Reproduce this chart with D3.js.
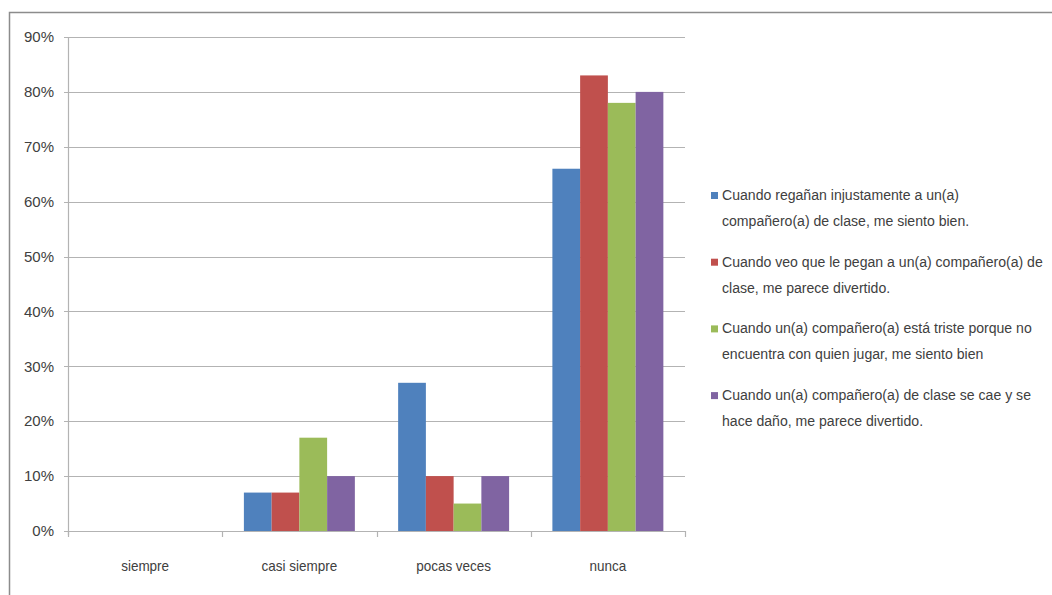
<!DOCTYPE html>
<html><head><meta charset="utf-8">
<script src="https://cdn.jsdelivr.net/npm/d3@7/dist/d3.min.js"></script>
<style>body{margin:0;background:#fff}svg{display:block}</style>
</head><body>
<svg id="c" width="1052" height="595"></svg>
<script>
const categories = ["siempre", "casi siempre", "pocas veces", "nunca"];
const seriesNames = [
  ["Cuando regañan injustamente a un(a)", "compañero(a) de clase, me siento bien."],
  ["Cuando veo que le pegan a un(a) compañero(a) de", "clase, me parece divertido."],
  ["Cuando un(a) compañero(a) está triste porque no", "encuentra con quien jugar, me siento bien"],
  ["Cuando un(a) compañero(a) de clase se cae y se", "hace daño, me parece divertido."]
];
const serie1 = [0, 7, 27, 66];
const serie2 = [0, 7, 10, 83];
const serie3 = [0, 17, 5, 78];
const serie4 = [0, 10, 10, 80];
const yTicks = [0, 10, 20, 30, 40, 50, 60, 70, 80, 90];
const colors = ["#4F81BD", "#C0504D", "#9BBB59", "#8064A2"];

const series = [serie1, serie2, serie3, serie4];
const svg = d3.select("#c");
const font = "'Liberation Sans', Arial, sans-serif";
const textColor = "#404040";

// outer frame (top and left)
svg.append("path").attr("d", "M9.5,600 L9.5,12.5 L1060,12.5")
  .attr("fill", "none").attr("stroke", "#8c8c8c").attr("stroke-width", 1.5);

const x0 = d3.scaleBand().domain(categories).range([68, 685]).paddingInner(0).paddingOuter(0);
const y = d3.scaleLinear().domain([0, 90]).range([531, 37]);
const x1 = d3.scaleBand().domain(d3.range(4)).range([0, x0.bandwidth()]).paddingOuter(0.78).paddingInner(0);

// gridlines
svg.append("g").selectAll("line").data(yTicks).join("line")
  .attr("x1", 64).attr("x2", 685)
  .attr("y1", d => Math.round(y(d)) + 0.5).attr("y2", d => Math.round(y(d)) + 0.5)
  .attr("stroke", "#b3b3b3").attr("stroke-width", 1.2);

// y axis line
svg.append("line").attr("x1", 68.5).attr("x2", 68.5).attr("y1", 37).attr("y2", 535)
  .attr("stroke", "#b3b3b3").attr("stroke-width", 1.2);

// y tick labels
svg.append("g").selectAll("text").data(yTicks).join("text")
  .attr("x", 54).attr("y", d => y(d)).attr("dy", "0.35em")
  .attr("text-anchor", "end").attr("font-family", font).attr("font-size", 15)
  .attr("fill", textColor).text(d => d + "%");

// category ticks
const catEdges = categories.map(c => x0(c)).concat([x0(categories[3]) + x0.bandwidth()]);
svg.append("g").selectAll("line").data(catEdges).join("line")
  .attr("x1", d => Math.round(d) + 0.5).attr("x2", d => Math.round(d) + 0.5)
  .attr("y1", 531).attr("y2", 537)
  .attr("stroke", "#b3b3b3").attr("stroke-width", 1.2);

// bars
const g = svg.append("g");
categories.forEach((c, ci) => {
  series.forEach((s, si) => {
    const v = s[ci];
    if (v <= 0) return;
    g.append("rect")
      .attr("x", x0(c) + x1(si)).attr("width", x1.bandwidth())
      .attr("y", y(v)).attr("height", y(0) - y(v))
      .attr("fill", colors[si]);
  });
});

// category labels (slightly condensed, like the narrow face of the original)
svg.append("g").selectAll("text").data(categories).join("text")
  .attr("transform", d => `translate(${x0(d) + x0.bandwidth() / 2},571) scale(0.9,1)`)
  .attr("text-anchor", "middle").attr("font-family", font).attr("font-size", 15)
  .attr("fill", textColor).text(d => d);

// legend
const leg = svg.append("g");
const legTexts = [];
seriesNames.forEach((lines, i) => {
  const by = 200 + i * 66.7;
  leg.append("rect").attr("x", 711).attr("y", by - 8).attr("width", 7).attr("height", 7)
    .attr("fill", colors[i]);
  lines.forEach((t, li) => {
    legTexts.push({node: leg.append("text").attr("x", 0).attr("y", 0)
      .attr("font-family", font).attr("font-size", 15.5)
      .attr("fill", textColor).text(t).node(), y: by + li * 26});
  });
});
// condense legend text so the longest line fits the space right of the plot
const maxW = d3.max(legTexts, o => o.node.getComputedTextLength());
const k = Math.min(1, 321 / maxW);
legTexts.forEach(o => {
  d3.select(o.node).attr("transform", `translate(722,${o.y}) scale(${k},1)`);
});
</script>
</body></html>
